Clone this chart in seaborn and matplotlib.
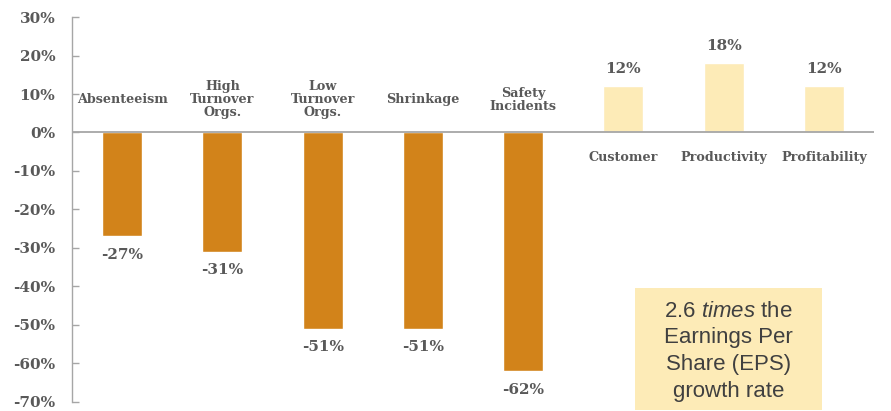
import matplotlib
matplotlib.use("Agg")
import matplotlib.pyplot as plt
import seaborn as sns
import pandas as pd

categories = ["Absenteeism", "High\nTurnover\nOrgs.", "Low\nTurnover\nOrgs.", "Shrinkage",
              "Safety\nIncidents", "Customer", "Productivity", "Profitability"]
values = [-27, -31, -51, -51, -62, 12, 18, 12]
value_labels = ["-27%", "-31%", "-51%", "-51%", "-62%", "12%", "18%", "12%"]
y_ticks = [30, 20, 10, 0, -10, -20, -30, -40, -50, -60, -70]
box_lines = ["$\\it{2.6\\ times}$ the", "Earnings Per", "Share (EPS)", "growth rate"]

ORANGE = "#D2831A"
LIGHT = "#FDEBB7"
GRAY = "#595959"
AXGRAY = "#A6A6A6"

df = pd.DataFrame({"cat": categories, "val": values})
df["sign"] = ["neg" if v < 0 else "pos" for v in values]

sns.set_theme(style="white")
plt.rcParams["font.family"] = ["DejaVu Serif"]
plt.rcParams["mathtext.fontset"] = "custom"
plt.rcParams["mathtext.it"] = "Liberation Sans:italic"
plt.rcParams["mathtext.rm"] = "Liberation Sans"

fig = plt.figure(figsize=(8.91, 4.11), dpi=100)
ax = fig.add_axes([0.0808, 0.0220, 0.9002, 0.9366])

sns.barplot(data=df, x="cat", y="val", hue="sign", palette={"neg": ORANGE, "pos": LIGHT},
            width=0.4, legend=False, ax=ax, dodge=False, saturation=1)

ax.set_ylim(-70, 30)
ax.set_xlim(-0.5, 7.5)
ax.set_yticks(y_ticks)
ax.set_yticklabels([f"{t}%" for t in y_ticks], fontsize=11, fontweight="bold", color=GRAY)
ax.set_xticks([])
ax.set_xlabel("")
ax.set_ylabel("")
for s in ["top", "right", "bottom"]:
    ax.spines[s].set_visible(False)
ax.spines["left"].set_color(AXGRAY)
ax.spines["left"].set_linewidth(1.0)
ax.tick_params(axis="y", which="both", left=True, direction="in", length=5, width=1,
               color=AXGRAY, pad=12)
ax.axhline(0, color=AXGRAY, lw=1.3, zorder=3)

for i, (v, lab, cat) in enumerate(zip(values, value_labels, categories)):
    if v < 0:
        ax.text(i, v - 4.8, lab, ha="center", va="center", fontsize=11, fontweight="bold", color=GRAY)
        ax.text(i, 8.5, cat, ha="center", va="center", fontsize=9.2, fontweight="bold", color=GRAY,
                linespacing=1.0)
    else:
        ax.text(i, v + 4.4, lab, ha="center", va="center", fontsize=11, fontweight="bold", color=GRAY)
        ax.text(i, -6.5, cat, ha="center", va="center", fontsize=9.2, fontweight="bold", color=GRAY)

# annotation box
fig.patches.append(plt.Rectangle((635 / 891, 1 - 410 / 411), (822 - 635) / 891, (410 - 288) / 411,
                                 transform=fig.transFigure, facecolor=LIGHT, edgecolor="none", zorder=0))
sans = ["Liberation Sans", "DejaVu Sans"]
cx = 728.5 / 891
for line, base in zip(box_lines, [317, 343, 370, 397]):
    fig.text(cx, 1 - base / 411, line, ha="center", va="baseline", fontsize=16,
             color="#404040", family=sans)

fig.savefig("out.png", dpi=100)
